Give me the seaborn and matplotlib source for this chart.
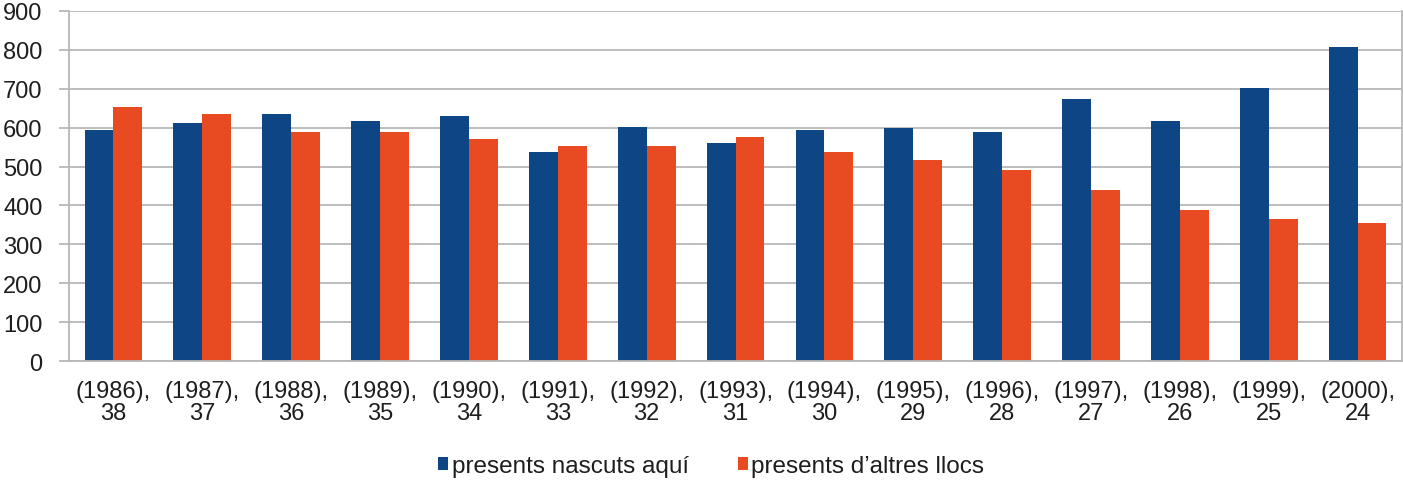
import pandas as pd
import matplotlib.pyplot as plt
import seaborn as sns
from matplotlib.ticker import FixedLocator, MultipleLocator

# ===============================
# Data
# ===============================
years = ["1986", "1987", "1988", "1989", "1990", "1991", "1992", "1993",
         "1994", "1995", "1996", "1997", "1998", "1999", "2000"]
ages = ["38", "37", "36", "35", "34", "33", "32", "31",
        "30", "29", "28", "27", "26", "25", "24"]
nascuts_aqui = [594, 613, 636, 617, 631, 538, 602, 561, 594, 599, 590, 674, 617, 701, 808]
altres_llocs = [654, 636, 590, 590, 570, 552, 552, 575, 538, 518, 491, 440, 389, 365, 355]
series_names = ["presents nascuts aquí", "presents d\u2019altres llocs"]

BLUE = "#0D4585"
RED = "#E84A22"
GRID = "#B8B8B8"
TEXT = "#1E1E1E"

categories = [f"({y}),\n{a}" for y, a in zip(years, ages)]
df = pd.DataFrame({
    "cat": categories * 2,
    "value": nascuts_aqui + altres_llocs,
    "serie": [series_names[0]] * len(categories) + [series_names[1]] * len(categories),
})

sns.set_style("white")
plt.rcParams["font.family"] = ["Liberation Sans", "DejaVu Sans"]
plt.rcParams["font.size"] = 17

fig = plt.figure(figsize=(14.03, 4.85), dpi=100)
ax = fig.add_axes([0.0492, 0.2536, 0.9501, 0.7217])

sns.barplot(data=df, x="cat", y="value", hue="serie", palette=[BLUE, RED],
            width=0.65, saturation=1, gap=0, ax=ax, linewidth=0)

ax.set_ylim(0, 900)
ax.set_xlim(-0.5, len(categories) - 0.5)
ax.yaxis.set_major_locator(MultipleLocator(100))
ax.grid(axis="y", color=GRID, linewidth=1.3)
ax.set_axisbelow(True)
for side in ["left", "bottom", "right", "top"]:
    ax.spines[side].set_color(GRID)
    ax.spines[side].set_linewidth(1.3)
ax.spines["top"].set_visible(False)

ax.set_xlabel("")
ax.set_ylabel("")

# category boundary ticks on x, labels centred without ticks
ax.xaxis.set_minor_locator(FixedLocator([i - 0.5 for i in range(len(categories) + 1)]))
ax.tick_params(axis="x", which="major", length=0, pad=14, colors=TEXT, labelsize=17)
ax.tick_params(axis="x", which="minor", length=7, width=1.3, color=GRID, direction="out")
ax.tick_params(axis="y", length=7, width=1.3, color=GRID, pad=12, labelcolor=TEXT, labelsize=17,
               direction="out", left=True)
for lbl in ax.get_xticklabels():
    lbl.set_linespacing(1.0)

handles, labels = ax.get_legend_handles_labels()
ax.get_legend().remove()
fig.legend(handles, labels, loc="center", bbox_to_anchor=(0.507, 0.037), ncol=2,
           frameon=False, fontsize=17.5, handlelength=0.42, handleheight=0.42,
           handletextpad=0.15, columnspacing=2.0, labelcolor=TEXT)

plt.savefig("out.png", dpi=100, facecolor="white")
